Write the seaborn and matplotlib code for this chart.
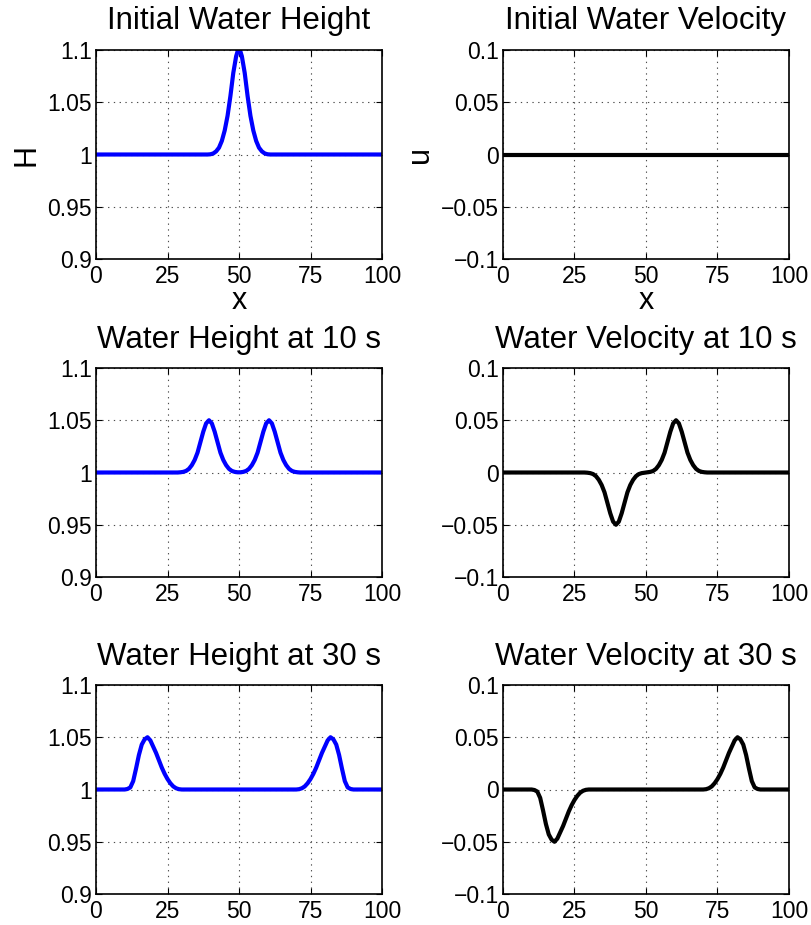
import matplotlib
matplotlib.use("Agg")
import matplotlib.pyplot as plt
import numpy as np
import pandas as pd
import seaborn as sns

# ---------------- data ----------------
x_ticks = [0, 25, 50, 75, 100]
x_tick_labels = ["0", "25", "50", "75", "100"]
h_ticks = [0.9, 0.95, 1.0, 1.05, 1.1]
h_tick_labels = ["0.9", "0.95", "1", "1.05", "1.1"]
u_ticks = [-0.1, -0.05, 0.0, 0.05, 0.1]
u_tick_labels = ["\u22120.1", "\u22120.05", "0", "0.05", "0.1"]

titles_h = ["Initial Water Height", "Water Height at 10 s", "Water Height at 30 s"]
titles_u = ["Initial Water Velocity", "Water Velocity at 10 s", "Water Velocity at 30 s"]

# initial state
x_0 = [0, 39, 40, 41, 42, 43, 44, 45, 46, 47, 48, 49, 49.5, 50, 50.5, 51, 52, 53,
       54, 55, 56, 57, 58, 59, 60, 61, 100]
h_0 = [1.0, 1.0, 1.0002, 1.001, 1.003, 1.0065, 1.013, 1.023, 1.037, 1.056, 1.078,
       1.094, 1.0985, 1.1, 1.0985, 1.094, 1.078, 1.056, 1.037, 1.023, 1.013, 1.0065,
       1.003, 1.001, 1.0002, 1.0, 1.0]
xu_0 = [0, 100]
u_0 = [0.0, 0.0]

# t = 10 s
x_10 = [0, 28.5, 29.5, 30.5, 31.5, 32.5, 33.5, 34.5, 35.5, 36.5, 37.5, 38.5, 39.5,
        40.5, 41.5, 42.5, 43.5, 44.5, 45.5, 46.5, 47.5, 48.5, 49.5, 50, 50.5, 51.5,
        52.5, 53.5, 54.5, 55.5, 56.5, 57.5, 58.5, 59.5, 60.5, 61.5, 62.5, 63.5, 64.5,
        65.5, 66.5, 67.5, 68.5, 69.5, 70.5, 71.5, 100]
h_10 = [1.0, 1.0, 1.0002, 1.0006, 1.0015, 1.0035, 1.007, 1.012, 1.019, 1.029, 1.039,
        1.047, 1.05, 1.047, 1.039, 1.029, 1.019, 1.012, 1.007, 1.0035, 1.0015, 1.0006,
        1.0002, 1.0002, 1.0002, 1.0006, 1.0015, 1.0035, 1.007, 1.012, 1.019, 1.029,
        1.039, 1.047, 1.05, 1.047, 1.039, 1.029, 1.019, 1.012, 1.007, 1.0035, 1.0015,
        1.0006, 1.0002, 1.0, 1.0]
u_10 = [0.0, 0.0, -0.0002, -0.0006, -0.0015, -0.0035, -0.007, -0.012, -0.019, -0.029,
        -0.039, -0.047, -0.05, -0.047, -0.039, -0.029, -0.019, -0.012, -0.007, -0.0035,
        -0.0015, -0.0006, -0.0002, 0.0, 0.0002, 0.0006, 0.0015, 0.0035, 0.007, 0.012,
        0.019, 0.029, 0.039, 0.047, 0.05, 0.047, 0.039, 0.029, 0.019, 0.012, 0.007,
        0.0035, 0.0015, 0.0006, 0.0002, 0.0, 0.0]

# t = 30 s
x_30 = [0, 10, 11, 12, 13, 14, 15, 16, 17, 18, 19, 20, 21, 22, 23, 24, 25, 26, 27, 28,
        29, 30, 70, 71, 72, 73, 74, 75, 76, 77, 78, 79, 80, 81, 82, 83, 84, 85, 86, 87,
        88, 89, 90, 100]
h_30 = [1.0, 1.0, 1.0005, 1.002, 1.008, 1.02, 1.033, 1.043, 1.048, 1.05, 1.047, 1.041,
        1.035, 1.028, 1.021, 1.015, 1.01, 1.006, 1.003, 1.0012, 1.0003, 1.0,
        1.0, 1.0003, 1.0012, 1.003, 1.006, 1.01, 1.015, 1.021, 1.028, 1.035, 1.041,
        1.047, 1.05, 1.048, 1.043, 1.033, 1.02, 1.008, 1.002, 1.0005, 1.0, 1.0]
u_30 = [0.0, 0.0, -0.0005, -0.002, -0.008, -0.02, -0.033, -0.043, -0.048, -0.05, -0.047,
        -0.041, -0.035, -0.028, -0.021, -0.015, -0.01, -0.006, -0.003, -0.0012, -0.0003,
        0.0, 0.0, 0.0003, 0.0012, 0.003, 0.006, 0.01, 0.015, 0.021, 0.028, 0.035, 0.041,
        0.047, 0.05, 0.048, 0.043, 0.033, 0.02, 0.008, 0.002, 0.0005, 0.0, 0.0]

# ---------------- styling ----------------
sns.set_theme(style="white")
plt.rcParams["font.family"] = ["Liberation Sans", "DejaVu Sans"]
plt.rcParams["axes.unicode_minus"] = True

fig = plt.figure(figsize=(8.12, 9.25), dpi=100)

col_left = [96 / 812, 503 / 812]
width = 286 / 812
row_bottom = [(925 - 259) / 925, (925 - 577) / 925, (925 - 894) / 925]
height = 209 / 925
title_pads = [15, 14.5, 14.5]

TICK_FS = 16.5
TITLE_FS = 22.5
LABEL_FS = 22

panels_h = [(x_0, h_0), (x_10, h_10), (x_30, h_30)]
panels_u = [(xu_0, u_0), (x_10, u_10), (x_30, u_30)]


def style_axis(ax, yticks, ylabels, ylim):
    ax.set_xlim(0, 100)
    ax.set_ylim(*ylim)
    ax.set_xticks(x_ticks)
    ax.set_xticklabels(x_tick_labels)
    ax.set_yticks(yticks)
    ax.set_yticklabels(ylabels)
    ax.tick_params(axis="x", direction="in", length=4, width=0.8, pad=4,
                   labelsize=TICK_FS, colors="black", top=True, bottom=True)
    ax.tick_params(axis="y", direction="in", length=4, width=0.8, pad=3,
                   labelsize=TICK_FS, colors="black", left=True, right=True)
    ax.grid(True, color="0.3", linewidth=0.8, linestyle=(0, (1.2, 4)))
    for sp in ax.spines.values():
        sp.set_color("black")
        sp.set_linewidth(1.2)
        sp.set_visible(True)
    ax.set_xlabel("")
    ax.set_ylabel("")


for r in range(3):
    # height panel
    ax = fig.add_axes([col_left[0], row_bottom[r], width, height])
    xs, ys = panels_h[r]
    df = pd.DataFrame({"x": xs, "H": ys})
    sns.lineplot(data=df, x="x", y="H", ax=ax, color="#0000FF", linewidth=3,
                 estimator=None, sort=True)
    style_axis(ax, h_ticks, h_tick_labels, (0.9, 1.1))
    ax.set_title(titles_h[r], fontsize=TITLE_FS, pad=title_pads[r], color="black")
    if r == 0:
        ax.set_xlabel("x", fontsize=LABEL_FS, labelpad=-1, color="black")
        ax.set_ylabel("H", fontsize=LABEL_FS, labelpad=4, color="black")

    # velocity panel
    ax = fig.add_axes([col_left[1], row_bottom[r], width, height])
    xs, ys = panels_u[r]
    df = pd.DataFrame({"x": xs, "u": ys})
    sns.lineplot(data=df, x="x", y="u", ax=ax, color="black", linewidth=3,
                 estimator=None, sort=True)
    style_axis(ax, u_ticks, u_tick_labels, (-0.1, 0.1))
    ax.set_title(titles_u[r], fontsize=TITLE_FS, pad=title_pads[r], color="black")
    if r == 0:
        ax.set_xlabel("x", fontsize=LABEL_FS, labelpad=-1, color="black")
        ax.set_ylabel("u", fontsize=LABEL_FS, labelpad=4, color="black")

fig.savefig("out.png", dpi=100, facecolor="white")
